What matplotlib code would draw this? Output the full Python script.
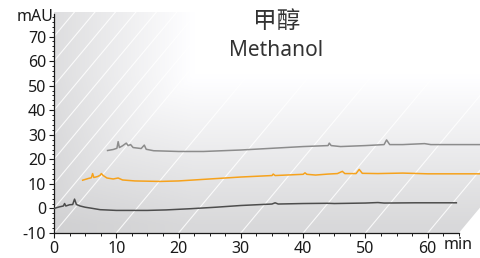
import numpy as np
import matplotlib.pyplot as plt
from matplotlib.patches import Polygon
from matplotlib.ticker import FixedLocator

plt.rcParams['font.family'] = ['Noto Sans', 'Noto Sans CJK SC', 'DejaVu Sans']
plt.rcParams['axes.unicode_minus'] = False

# chromatograms, each in its own time/absorbance frame (min, mAU)
t_front = [0, 0.8, 1.5, 1.7, 1.9, 2.5, 3.0, 3.3, 3.6, 4.2, 5, 6, 7.4, 10, 15, 18, 22, 26,
           30, 35, 35.5, 36, 40, 44, 45, 50, 52, 53, 58, 64.6]
y_front = [0, 0.6, 1.0, 2.0, 1.0, 1.5, 1.6, 3.8, 1.6, 1.0, 0.5, 0.1, -0.5, -0.8, -0.8, -0.6, -0.1, 0.5,
           1.2, 1.8, 2.3, 1.8, 2.0, 2.1, 2.0, 2.2, 2.4, 2.2, 2.3, 2.3]

t_mid = [0, 0.9, 1.4, 1.6, 1.8, 2.4, 2.8, 3.0, 3.3, 3.9, 4.9, 5.7, 6.4, 8.4, 12.4, 15.4, 20.4, 25.4,
         30.4, 30.6, 30.9, 35.4, 35.7, 36.0, 37.4, 39.4, 40.9, 41.7, 42.1, 43.9, 44.4, 44.9,
         47.4, 51.4, 55.4, 64.6]
y_mid = [0, 0.7, 1.0, 2.7, 1.1, 1.5, 2.0, 2.7, 1.9, 0.9, 0.5, 0.9, 0.1, -0.3, -0.5, -0.3, 0.5, 1.3,
         1.9, 2.5, 1.9, 2.4, 3.0, 2.4, 2.1, 2.5, 2.7, 3.6, 2.7, 2.7, 4.4, 2.8,
         2.7, 2.9, 2.6, 2.6]

t_back = [0, 0.9, 1.5, 1.7, 1.9, 2.4, 3.0, 3.3, 3.7, 4.1, 5.4, 5.9, 6.2, 7.4, 11.4, 15.4, 21.4, 26.4,
          31.4, 35.4, 35.6, 35.9, 37.4, 41.4, 44.4, 44.8, 45.3, 47.4, 50.9, 51.9, 64.6]
y_back = [0, 0.4, 0.9, 3.6, 1.2, 1.9, 3.0, 2.0, 2.4, 1.2, 0.8, 2.2, 0.5, -0.1, -0.4, -0.4, 0.2, 0.9,
          1.6, 2.0, 3.0, 2.0, 1.6, 2.0, 2.4, 4.3, 2.4, 2.4, 2.8, 2.4, 2.4]

# pseudo-3D stacking offsets (min, mAU)
offsets = [(0, 0), (4.6, 11.5), (8.6, 23.6)]
colors = ['#4d4d4d', '#f6a21c', '#8c8c8c']

x_ticks = [0, 10, 20, 30, 40, 50, 60]
y_ticks = [-10, 0, 10, 20, 30, 40, 50, 60, 70]

xmax, ymin, ymax = 68.4, -10, 80
slope = 3.04  # mAU per min, the slant of the back planes

fig = plt.figure(figsize=(4.8, 2.58), dpi=100)
ax = fig.add_axes([54 / 480, 25 / 258, 426 / 480, 221 / 258])
ax.set_xlim(0, xmax)
ax.set_ylim(ymin, ymax)

# shaded panel with slanted right edge
panel = Polygon([(0, ymin), (65, ymin), (65 + (ymax - ymin) / slope, ymax), (0, ymax)],
                closed=True, transform=ax.transData)

xs = np.linspace(0, xmax, 400)
ys = np.linspace(ymin, ymax, 200)
X, Y = np.meshgrid(xs, ys)
px = 54 + X * 426 / xmax
py = 233 - (Y - ymin) * 221 / (ymax - ymin)
dv = 0.15 * np.clip((py - 75) / 150, 0, 1)
dh = 0.13 * np.clip(1 - (px - 54) / 140, 0, 1)
d = np.maximum(dv, dh) + 0.25 * np.minimum(dv, dh)
g = 1 - d
img = np.dstack([g, g, np.clip(g + 0.006, 0, 1)])
im = ax.imshow(img, extent=(0, xmax, ymin, ymax), origin='lower', aspect='auto',
               interpolation='bilinear', zorder=0)
im.set_clip_path(panel)

# white slanted guide lines
starts = [(x0, ymin) for x0 in x_ticks] + [(0, y0) for y0 in y_ticks[1:]]
for x0, y0 in starts:
    ln, = ax.plot([x0, x0 + (ymax - y0) / slope], [y0, ymax], color='white',
                  lw=0.8, alpha=0.85, zorder=1)
    ln.set_clip_path(panel)

for (t, y), (dx, dy), c in zip([(t_front, y_front), (t_mid, y_mid), (t_back, y_back)],
                               offsets, colors):
    ax.plot(np.array(t) + dx, np.array(y) + dy, color=c, lw=1.1, zorder=3)

for s in ['top', 'right']:
    ax.spines[s].set_visible(False)
ax.spines['left'].set_bounds(ymin, 79)
ax.spines['bottom'].set_bounds(0, 65)
for s in ['left', 'bottom']:
    ax.spines[s].set_color('#1a1a1a')
    ax.spines[s].set_linewidth(0.9)

ax.set_xticks(x_ticks)
ax.set_yticks(y_ticks)
ax.xaxis.set_minor_locator(FixedLocator(np.arange(0, 65.1, 2.5)))
ax.yaxis.set_minor_locator(FixedLocator(np.arange(-10, 78.1, 2)))
ax.tick_params(which='major', length=3.5, width=0.8, color='#1a1a1a',
               labelsize=11.5, labelcolor='#1a1a1a', pad=2)
ax.tick_params(which='minor', length=1.8, width=0.7, color='#1a1a1a')

fig.text(53 / 480, 1 - 17 / 258, 'mAU', ha='right', va='center', fontsize=11.5, color='#1a1a1a')
fig.text(458 / 480, 1 - 245 / 258, 'min', ha='center', va='center', fontsize=11.5, color='#1a1a1a')
fig.text(276.5 / 480, 1 - 21.5 / 258, '甲醇', ha='center', va='center', fontsize=17,
         color='#333333', family=['Noto Sans CJK SC', 'DejaVu Sans'])
fig.text(276.5 / 480, 1 - 50 / 258, 'Methanol', ha='center', va='center', fontsize=15,
         color='#333333')

fig.savefig('out.png', dpi=100)
